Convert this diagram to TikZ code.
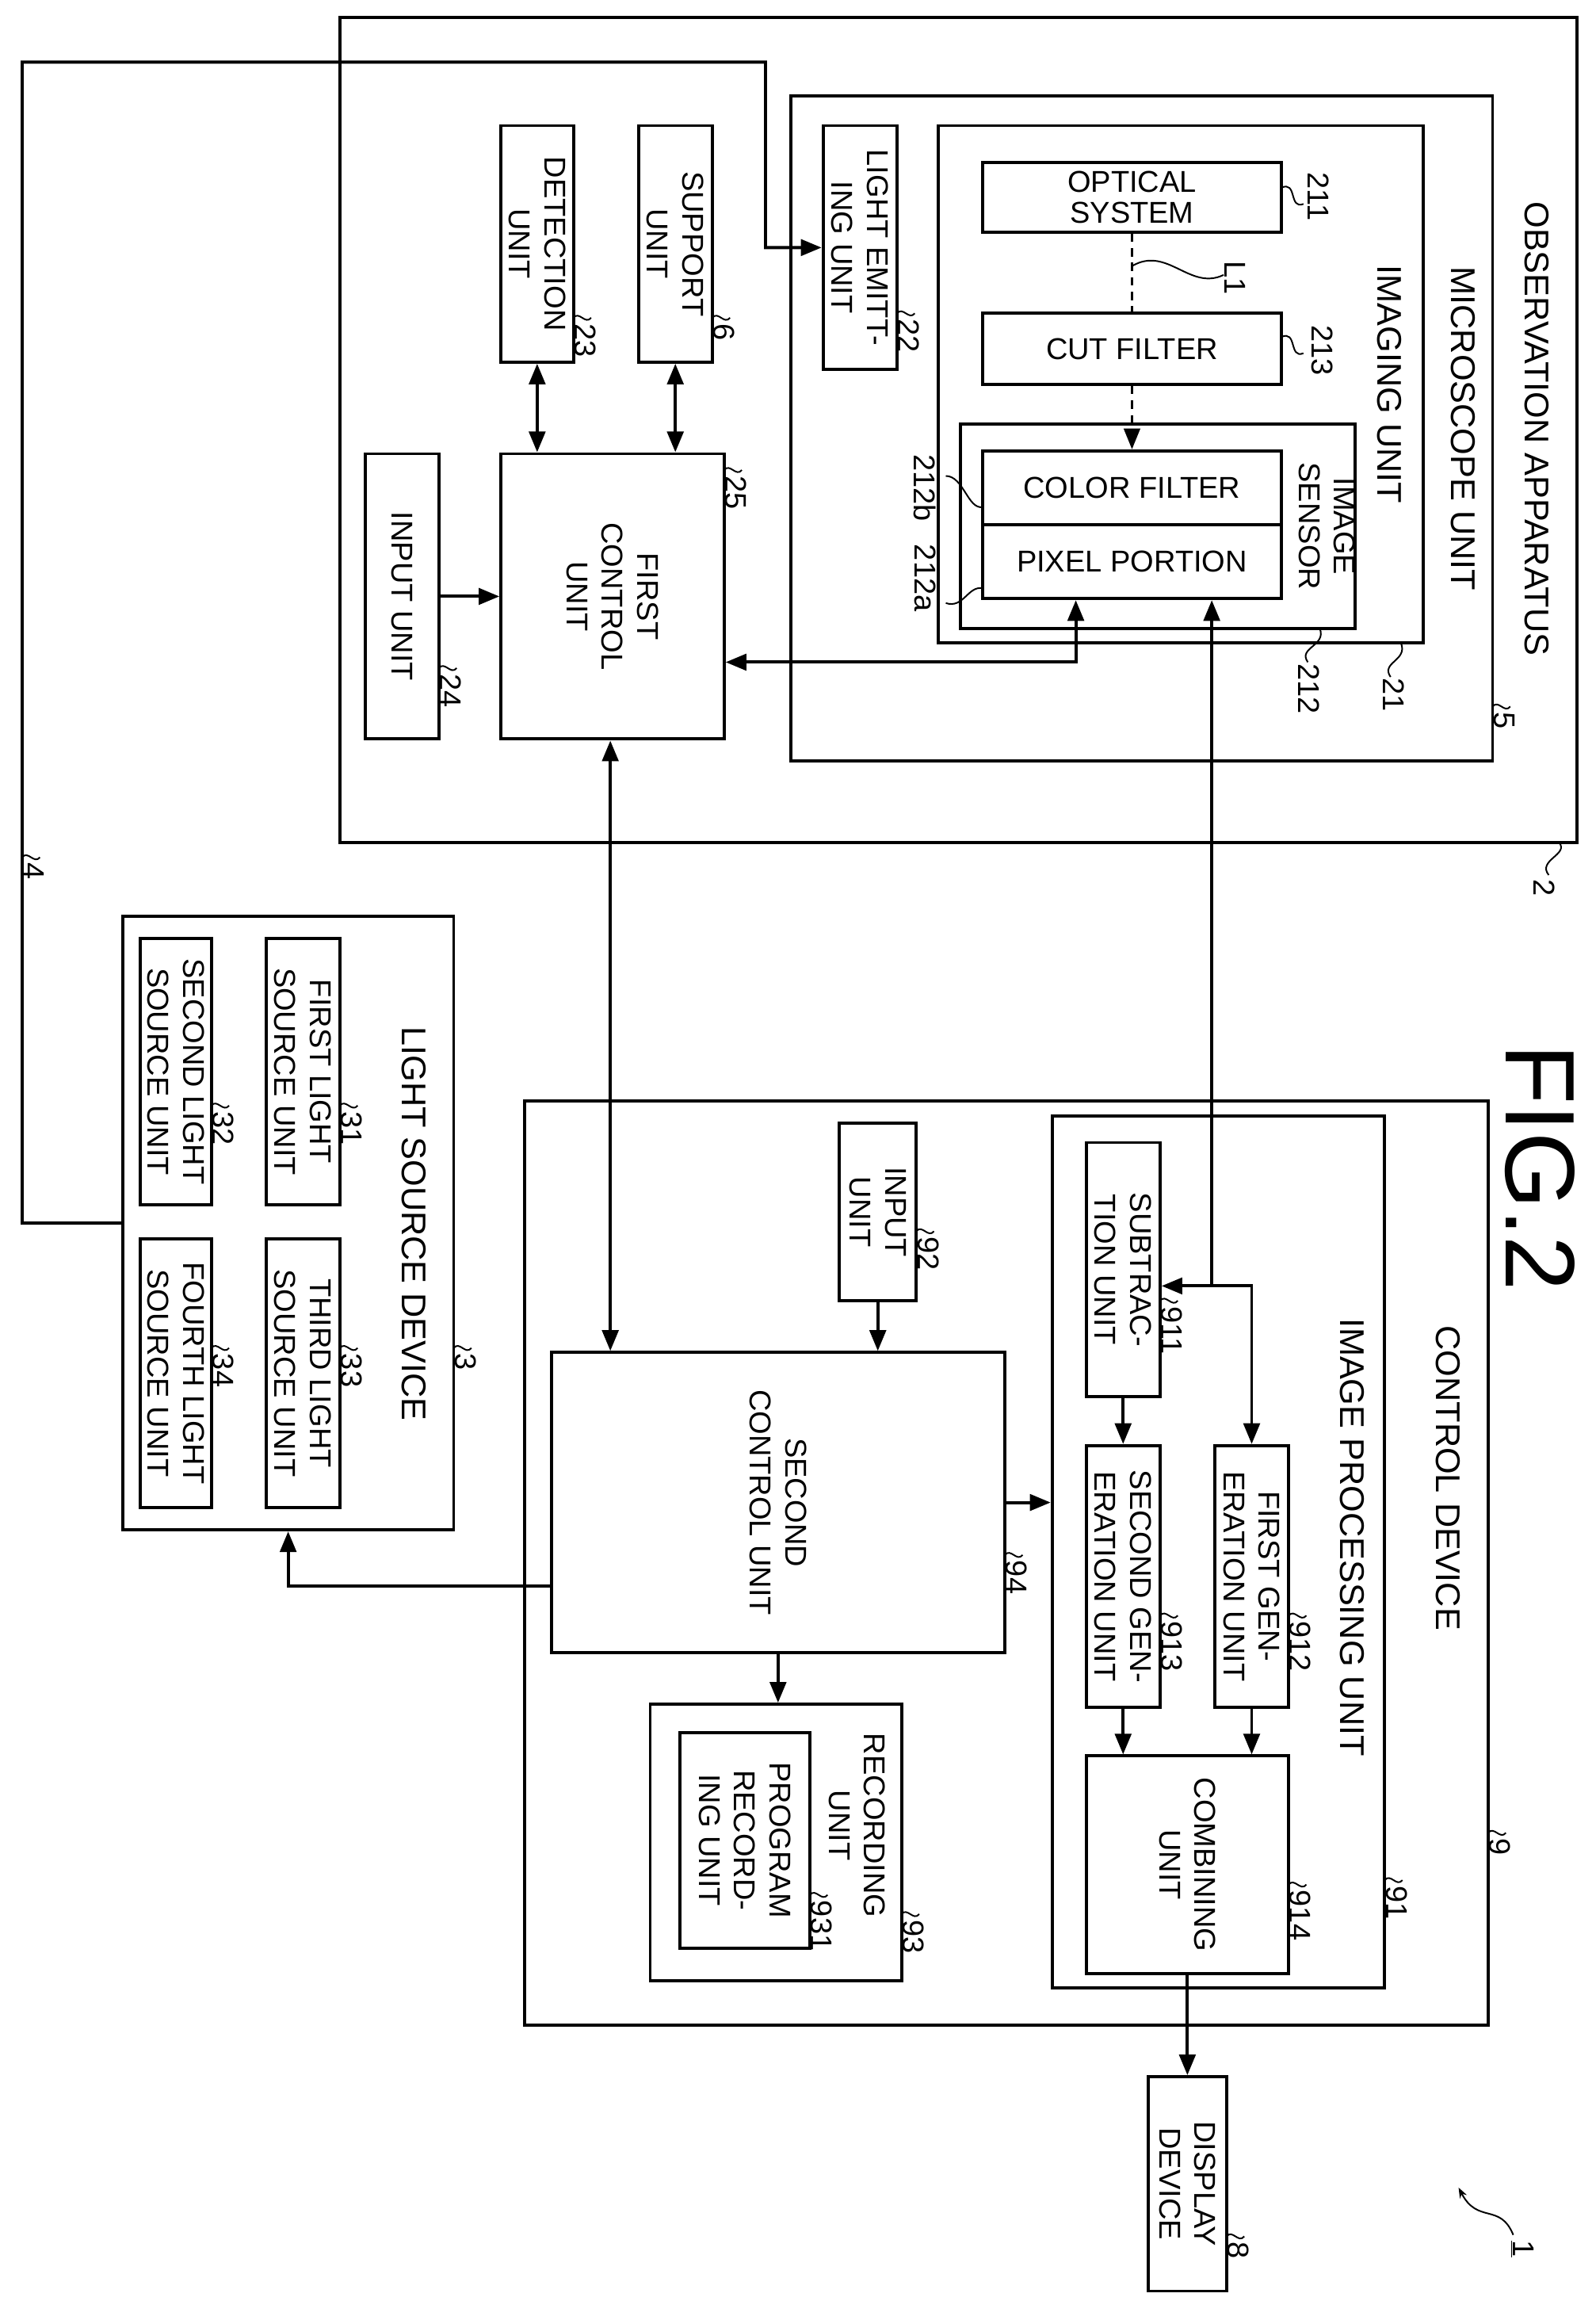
\documentclass[tikz,border=0pt]{standalone}
\usepackage{fontspec}
\setmainfont{Liberation Sans}
\usetikzlibrary{arrows.meta,fit}
\newcommand\bx[5]{\node[box,fit={(#2,#3)(#4,#5)}] (#1) {};}
\newcommand\rl[3]{\draw[lead] (#1,#2) .. controls +(4,-5) and +(-4,5) .. ++(12,0);
  \node[num,anchor=west] at ({#1+8},{#2+3}) {#3};}
\begin{document}
\begin{tikzpicture}[x=0.05cm,y=-0.05cm,
 box/.style={draw,line width=3pt,inner sep=0pt},
 txt/.style={rotate=-90,align=center,font=\fontsize{29}{34}\selectfont},
 htxt/.style={align=center,font=\fontsize{29}{34}\selectfont},
 big/.style={rotate=-90,font=\fontsize{33}{38}\selectfont},
 num/.style={rotate=-90,font=\fontsize{29}{34}\selectfont,inner sep=1pt},
 lead/.style={line width=1.5pt},
 arr/.style={line width=3pt,-{Triangle[length=0.7cm,width=0.55cm]}},
 darr/.style={line width=3pt,{Triangle[length=0.7cm,width=0.55cm]}-{Triangle[length=0.7cm,width=0.55cm]}},
 dsh/.style={line width=2pt,dash pattern=on 8pt off 6pt},
]
\useasboundingbox (0,0) rectangle (1080,1569.6);
% observation apparatus
\bx{obs}{230}{12}{1067}{570}
\bx{mic}{535}{65}{1010}{515}
\bx{img}{635}{85}{963}{435}
\bx{os}{665}{110}{867}{157}
\bx{cf}{665}{212}{867}{260}
\bx{is}{650}{287}{917}{425}
\bx{cfil}{665}{305}{867}{355}
\bx{pp}{665}{355}{867}{405}
\bx{le}{557}{85}{607}{250}
\bx{sup}{432}{85}{482}{245}
\bx{det}{339}{85}{388}{245}
\bx{fc}{339}{307}{490}{500}
\bx{in24}{247}{307}{297}{500}
\node[big] at (1040,290) {OBSERVATION APPARATUS};
\node[big] at (990,290) {MICROSCOPE UNIT};
\node[big] at (940,260) {IMAGING UNIT};
\node[txt] at (898,356) {IMAGE\\SENSOR};
\node[htxt] at (os.center) {OPTICAL\\[-4pt]SYSTEM};
\node[htxt] at (cf.center) {CUT FILTER};
\node[htxt] at (cfil.center) {COLOR FILTER};
\node[htxt] at (pp.center) {PIXEL PORTION};
\node[txt] at (le.center) {LIGHT EMITT-\\ING UNIT};
\node[txt] at (sup.center) {SUPPORT\\UNIT};
\node[txt] at (det.center) {DETECTION\\UNIT};
\node[txt] at (fc.center) {FIRST\\CONTROL\\UNIT};
\node[txt] at (in24.center) {INPUT UNIT};
% control device
\bx{cd}{355}{745}{1007}{1370}
\bx{ipu}{712}{755}{937}{1345}
\bx{sub}{735}{773}{785}{945}
\bx{fg}{822}{978}{872}{1155}
\bx{sg}{735}{978}{785}{1155}
\bx{comb}{735}{1188}{872}{1335}
\bx{in92}{568}{760}{620}{880}
\bx{c2}{373}{915}{680}{1118}
\bx{rec}{440}{1153}{610}{1340}
\bx{prog}{460}{1172}{548}{1318}
\bx{disp}{777}{1405}{830}{1550}
\node[big] at (980,1000) {CONTROL DEVICE};
\node[big] at (915,1040) {IMAGE PROCESSING UNIT};
\node[txt] at (sub.center) {SUBTRAC-\\TION UNIT};
\node[txt] at (fg.center) {FIRST GEN-\\ERATION UNIT};
\node[txt] at (sg.center) {SECOND GEN-\\ERATION UNIT};
\node[txt] at (comb.center) {COMBINING\\UNIT};
\node[txt] at (in92.center) {INPUT\\UNIT};
\node[txt] at (c2.center) {SECOND\\CONTROL UNIT};
\node[txt] at (580,1235) {RECORDING\\UNIT};
\node[txt] at (prog.center) {PROGRAM\\RECORD-\\ING UNIT};
\node[txt] at (disp.center) {DISPLAY\\DEVICE};
% light source device
\bx{ls}{83}{620}{307}{1035}
\bx{l1}{180}{635}{230}{815}
\bx{l2}{95}{635}{143}{815}
\bx{l3}{180}{838}{230}{1020}
\bx{l4}{95}{838}{143}{1020}
\node[big] at (280,828) {LIGHT SOURCE DEVICE};
\node[txt] at (l1.center) {FIRST LIGHT\\SOURCE UNIT};
\node[txt] at (l2.center) {SECOND LIGHT\\SOURCE UNIT};
\node[txt] at (l3.center) {THIRD LIGHT\\SOURCE UNIT};
\node[txt] at (l4.center) {FOURTH LIGHT\\SOURCE UNIT};
\node[rotate=-90,font=\fontsize{95}{100}\selectfont] at (1042,790) {FIG.2};
% connectors
\coordinate (j1) at (728,448);
\coordinate (j2) at (820,870);
\coordinate (x413) at (413,0);
\coordinate (y1073) at (0,1073);
\coordinate (c518) at (518,167.5);
\draw[dsh] (os.south) -- (cf.north);
\draw[dsh,-{Triangle[length=0.7cm,width=0.55cm]}] (cf.south) -- (cfil.north);
\draw[darr] (fc.east |- j1) -- (j1) -- (j1 |- pp.south);
\draw[arr] (j2) -- (j2 |- pp.south);
\draw[arr] (j2) -- (sub.east |- j2);
\draw[arr] (j2) -| (fg.north);
\draw[arr] (sub.south) -- (sg.north);
\draw[arr] (fg.south) -- (comb.north -| fg.south);
\draw[arr] (sg.south) -- (comb.north -| sg.south);
\draw[arr] (comb.south) -- (disp.north);
\draw[arr] (in92.south) -- (in92.south |- c2.north);
\draw[arr] (c2.east) -- (c2.east -| ipu.west);
\draw[arr] (c2.south) -- (c2.south |- rec.north);
\draw[darr] (fc.south -| x413) -- (c2.north -| x413);
\draw[arr] (c2.west |- y1073) -| (ls.south);
\draw[arr] (ls.west) -| (15,42) -| (c518) -- (le.west);
\draw[arr] (in24.east) -- (in24.east -| fc.west);
\draw[darr] (det.south) -- (det.south |- fc.north);
\draw[darr] (sup.south) -- (sup.south |- fc.north);
% reference labels
\rl{1010}{478}{5}
\rl{607}{212}{22}
\rl{482}{215}{6}
\rl{388}{215}{23}
\rl{490}{318}{25}
\rl{297}{452}{24}
\rl{15}{580}{4}
\rl{230}{748}{31}
\rl{143}{748}{32}
\rl{230}{912}{33}
\rl{143}{912}{34}
\rl{307}{912}{3}
\rl{620}{833}{92}
\rl{785}{880}{911}
\rl{872}{1093}{912}
\rl{785}{1093}{913}
\rl{680}{1052}{94}
\rl{872}{1275}{914}
\rl{548}{1282}{931}
\rl{610}{1295}{93}
\rl{937}{1272}{91}
\rl{1007}{1240}{9}
\rl{830}{1513}{8}
% special leaders
\draw[lead] (1055,570) .. controls (1062,578) and (1040,582) .. (1048,592);
\node[num,anchor=west] at (1045,594) {2};
\draw[lead] (867,127) .. controls (878,122) and (872,142) .. (882,138);
\node[num] at (892,133) {211};
\draw[lead] (867,228) .. controls (878,223) and (872,243) .. (882,239);
\node[num] at (895,237) {213};
\draw[lead] (665,343) .. controls (655,345) and (652,322) .. (640,322);
\node[num] at (626,330) {212b};
\draw[lead] (665,398) .. controls (655,396) and (652,412) .. (640,408);
\node[num] at (626,391) {212a};
\draw[lead] (893,425) .. controls (898,437) and (878,438) .. (885,448);
\node[num,anchor=west] at (886,448) {212};
\draw[lead] (948,435) .. controls (953,447) and (934,448) .. (941,458);
\node[num,anchor=west] at (943,458) {21};
\draw[lead] (766,180) .. controls (790,166) and (805,197) .. (828,186);
\node[num,anchor=west] at (836,176) {L1};
\node[num,anchor=west] (one) at (1030,1515) {\underline{1}};
\draw[lead,-{Stealth[length=0.35cm]}] (1024,1512) .. controls (1015,1490) and (1000,1505) .. (987,1480);
\end{tikzpicture}
\end{document}
